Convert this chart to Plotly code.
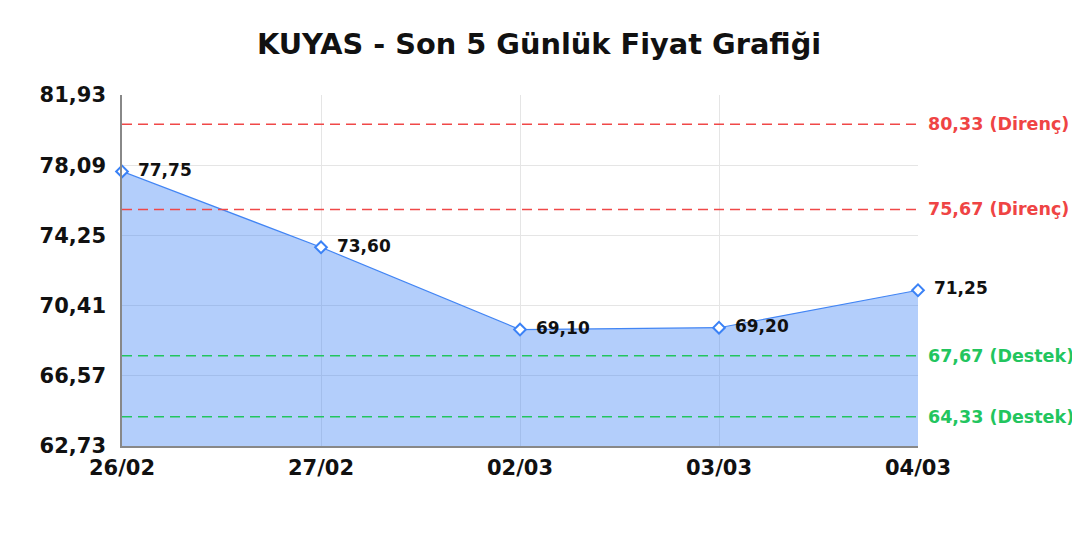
import plotly.graph_objects as go

dates = ["26/02", "27/02", "02/03", "03/03", "04/03"]
prices = [77.75, 73.60, 69.10, 69.20, 71.25]
resistance = [80.33, 75.67]
support = [67.67, 64.33]
y_ticks = [62.73, 66.57, 70.41, 74.25, 78.09, 81.93]

def fmt(v):
    return f"{v:.2f}".replace(".", ",")

x = list(range(len(dates)))
FONT = "DejaVu Sans"

fig = go.Figure()
fig.add_trace(go.Scatter(
    x=x, y=prices, mode="lines+markers+text",
    line=dict(color="#4285f4", width=1.2),
    fill="tozeroy", fillcolor="rgba(66,133,244,0.4)",
    marker=dict(symbol="diamond", size=9, color="white",
                line=dict(width=2, color="#3b82f6")),
    text=[" \u2009" + fmt(p) for p in prices],
    textposition="middle right",
    textfont=dict(family=FONT, size=17, color="#111111", weight="bold"),
    cliponaxis=False,
    showlegend=False,
))

shapes = []
annotations = []
for v in resistance:
    shapes.append(dict(type="line", xref="paper", x0=0, x1=1, yref="y", y0=v, y1=v,
                       layer="above",
                       line=dict(color="#f04848", width=1.5, dash="10px,6px")))
    annotations.append(dict(xref="paper", x=1.01, yref="y", y=v, xanchor="left",
                            text=f"{fmt(v)} (Direnç)", showarrow=False,
                            font=dict(family=FONT, size=17.5, color="#ef4444", weight="bold")))
for v in support:
    shapes.append(dict(type="line", xref="paper", x0=0, x1=1, yref="y", y0=v, y1=v,
                       layer="above",
                       line=dict(color="#22c55e", width=1.5, dash="10px,6px")))
    annotations.append(dict(xref="paper", x=1.01, yref="y", y=v, xanchor="left",
                            text=f"{fmt(v)} (Destek)", showarrow=False,
                            font=dict(family=FONT, size=17.5, color="#22c55e", weight="bold")))

fig.update_layout(
    width=1080, height=540,
    paper_bgcolor="white", plot_bgcolor="white",
    margin=dict(l=114, r=170, t=87, b=102),
    title=dict(text="KUYAS - Son 5 Günlük Fiyat Grafiği", x=0.4917, xanchor="center",
               y=0.953, yanchor="top",
               font=dict(family=FONT, size=28.8, color="#111111", weight="bold")),
    shapes=shapes, annotations=annotations,
    xaxis=dict(range=[0, 4], tickvals=x, ticktext=dates,
               showgrid=True, gridcolor="#e5e5e5", zeroline=False,
               showline=True, linecolor="#888888", linewidth=1.5,
               tickfont=dict(family=FONT, size=21, color="#111111", weight="bold"),
               ticks="", ticklen=0, ticklabelstandoff=2),
    yaxis=dict(range=[62.73, 81.93], tickvals=y_ticks, ticktext=[fmt(v) for v in y_ticks],
               showgrid=True, gridcolor="#e5e5e5", zeroline=False,
               showline=True, linecolor="#888888", linewidth=1.5,
               tickfont=dict(family=FONT, size=21, color="#111111", weight="bold"),
               ticks="", ticklen=0, ticklabelstandoff=10),
)

fig.write_html("out.html")
